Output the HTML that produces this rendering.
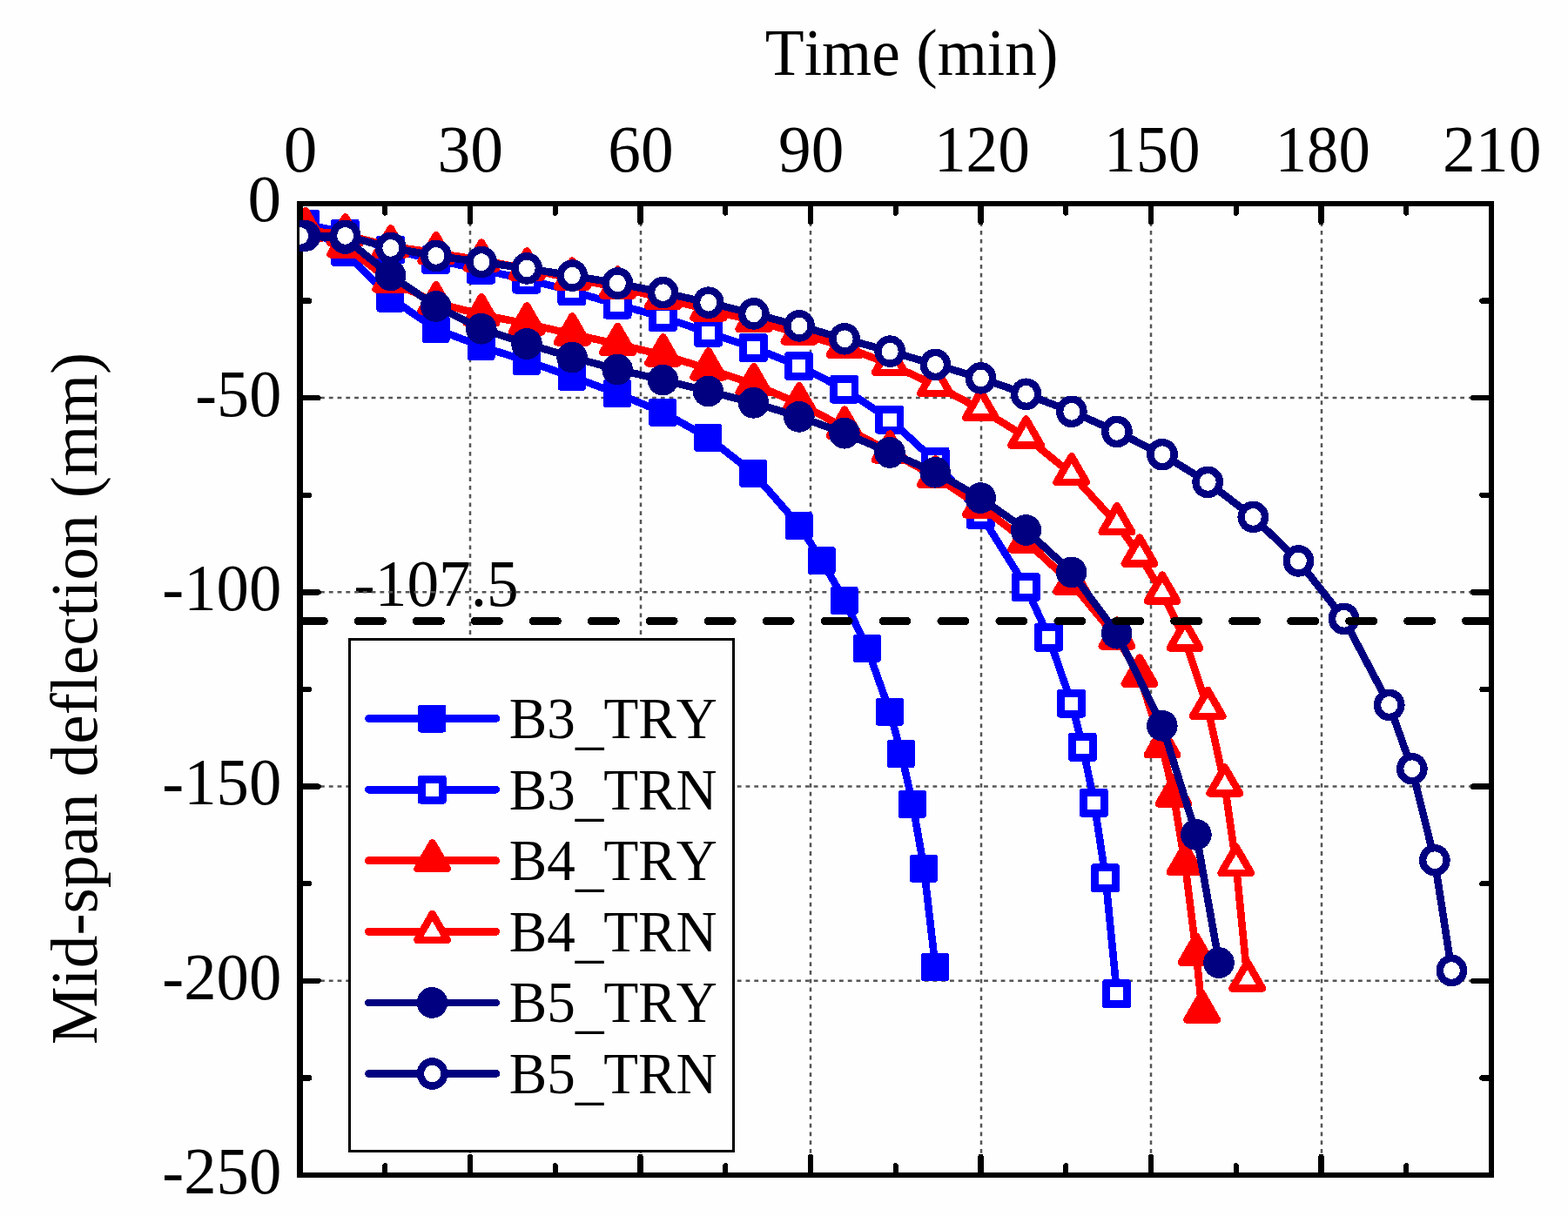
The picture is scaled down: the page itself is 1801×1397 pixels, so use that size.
<!DOCTYPE html>
<html lang="en">
<head>
<meta charset="utf-8">
<title>Mid-span deflection vs Time</title>
<style>
html,body{margin:0;padding:0;background:#fefefe;}
body{width:1801px;height:1397px;overflow:hidden;}
svg{display:block;}
text{font-family:"Liberation Serif","DejaVu Serif",serif;fill:#000;font-variant-ligatures:none;font-kerning:none;}
.ax{font-size:75px;}
.lg{font-size:66px;}
</style>
</head>
<body>
<svg width="1801" height="1397" viewBox="0 0 1801 1397">
<rect x="0" y="0" width="1801" height="1397" fill="#fefefe"/>
<defs><clipPath id="plot"><rect x="344" y="234" width="1369" height="1116"/></clipPath><clipPath id="frame"><rect x="341" y="231" width="1375" height="1122"/></clipPath></defs>
<text class="ax" transform="translate(406.36 695.88) scale(0.9779 1.0246)">-107.5</text>
<g stroke="#555" fill="none" stroke-width="2.5" stroke-dasharray="4.8 4.97">
<line x1="540" y1="235.6" x2="540" y2="1350"/>
<line x1="736" y1="235.6" x2="736" y2="1350"/>
<line x1="931" y1="235.6" x2="931" y2="1350"/>
<line x1="1127" y1="235.6" x2="1127" y2="1350"/>
<line x1="1322" y1="235.6" x2="1322" y2="1350"/>
<line x1="1518" y1="235.6" x2="1518" y2="1350"/>
<line x1="348.5" y1="457.1" x2="1713" y2="457.1"/>
<line x1="348.5" y1="680.3" x2="1713" y2="680.3"/>
<line x1="348.5" y1="903.5" x2="1713" y2="903.5"/>
<line x1="348.5" y1="1126.7" x2="1713" y2="1126.7"/>
</g>
<g clip-path="url(#plot)" shape-rendering="crispEdges">
<polyline points="351,257 396.6,289.8 448.8,342.6 500.9,378 553,398 605.2,415 657.3,432.8 709.4,452.1 761.6,473.9 813.7,502.8 865.8,544 918,604 944,643.9 970.1,689.9 996.2,744.8 1022.2,817.7 1035.3,866 1048.3,923.9 1061.3,997.7 1074.4,1111" fill="none" stroke="#0000ff" stroke-width="8.6" stroke-linejoin="round" stroke-linecap="round"/>
<rect x="334.6" y="241" width="32" height="32" rx="3.2" fill="#0000ff"/>
<rect x="380.2" y="273.8" width="32" height="32" rx="3.2" fill="#0000ff"/>
<rect x="432.4" y="326.6" width="32" height="32" rx="3.2" fill="#0000ff"/>
<rect x="484.5" y="362" width="32" height="32" rx="3.2" fill="#0000ff"/>
<rect x="536.6" y="382" width="32" height="32" rx="3.2" fill="#0000ff"/>
<rect x="588.8" y="399" width="32" height="32" rx="3.2" fill="#0000ff"/>
<rect x="640.9" y="416.8" width="32" height="32" rx="3.2" fill="#0000ff"/>
<rect x="693" y="436.1" width="32" height="32" rx="3.2" fill="#0000ff"/>
<rect x="745.2" y="457.9" width="32" height="32" rx="3.2" fill="#0000ff"/>
<rect x="797.3" y="486.8" width="32" height="32" rx="3.2" fill="#0000ff"/>
<rect x="849.4" y="528" width="32" height="32" rx="3.2" fill="#0000ff"/>
<rect x="901.6" y="588" width="32" height="32" rx="3.2" fill="#0000ff"/>
<rect x="927.6" y="627.9" width="32" height="32" rx="3.2" fill="#0000ff"/>
<rect x="953.7" y="673.9" width="32" height="32" rx="3.2" fill="#0000ff"/>
<rect x="979.8" y="728.8" width="32" height="32" rx="3.2" fill="#0000ff"/>
<rect x="1005.8" y="801.7" width="32" height="32" rx="3.2" fill="#0000ff"/>
<rect x="1018.9" y="850" width="32" height="32" rx="3.2" fill="#0000ff"/>
<rect x="1031.9" y="907.9" width="32" height="32" rx="3.2" fill="#0000ff"/>
<rect x="1044.9" y="981.7" width="32" height="32" rx="3.2" fill="#0000ff"/>
<rect x="1058" y="1095" width="32" height="32" rx="3.2" fill="#0000ff"/>
<polyline points="351,257 396.6,268 448.8,287 500.9,298.5 553,310 605.2,321 657.3,334.4 709.4,350 761.6,364.4 813.7,382.2 865.8,399.5 918,420.6 970.1,447.2 1022.2,482.1 1074.4,530 1126.5,591.2 1178.6,674.4 1204.7,732.2 1230.8,808.1 1243.8,858.3 1256.8,922.4 1269.9,1008.8 1282.9,1141.6" fill="none" stroke="#0000ff" stroke-width="8.6" stroke-linejoin="round" stroke-linecap="round"/>
<rect x="334.1" y="240.5" width="33" height="33" rx="3.6" fill="#0000ff"/><rect x="343" y="249.5" width="15.4" height="15" fill="#fff"/>
<rect x="379.7" y="251.5" width="33" height="33" rx="3.6" fill="#0000ff"/><rect x="388.6" y="260.5" width="15.4" height="15" fill="#fff"/>
<rect x="431.9" y="270.5" width="33" height="33" rx="3.6" fill="#0000ff"/><rect x="440.8" y="279.5" width="15.4" height="15" fill="#fff"/>
<rect x="484" y="282" width="33" height="33" rx="3.6" fill="#0000ff"/><rect x="492.9" y="291" width="15.4" height="15" fill="#fff"/>
<rect x="536.1" y="293.5" width="33" height="33" rx="3.6" fill="#0000ff"/><rect x="545" y="302.5" width="15.4" height="15" fill="#fff"/>
<rect x="588.3" y="304.5" width="33" height="33" rx="3.6" fill="#0000ff"/><rect x="597.2" y="313.5" width="15.4" height="15" fill="#fff"/>
<rect x="640.4" y="317.9" width="33" height="33" rx="3.6" fill="#0000ff"/><rect x="649.3" y="326.9" width="15.4" height="15" fill="#fff"/>
<rect x="692.5" y="333.5" width="33" height="33" rx="3.6" fill="#0000ff"/><rect x="701.4" y="342.5" width="15.4" height="15" fill="#fff"/>
<rect x="744.7" y="347.9" width="33" height="33" rx="3.6" fill="#0000ff"/><rect x="753.6" y="356.9" width="15.4" height="15" fill="#fff"/>
<rect x="796.8" y="365.7" width="33" height="33" rx="3.6" fill="#0000ff"/><rect x="805.7" y="374.7" width="15.4" height="15" fill="#fff"/>
<rect x="848.9" y="383" width="33" height="33" rx="3.6" fill="#0000ff"/><rect x="857.8" y="392" width="15.4" height="15" fill="#fff"/>
<rect x="901.1" y="404.1" width="33" height="33" rx="3.6" fill="#0000ff"/><rect x="910" y="413.1" width="15.4" height="15" fill="#fff"/>
<rect x="953.2" y="430.7" width="33" height="33" rx="3.6" fill="#0000ff"/><rect x="962.1" y="439.7" width="15.4" height="15" fill="#fff"/>
<rect x="1005.3" y="465.6" width="33" height="33" rx="3.6" fill="#0000ff"/><rect x="1014.2" y="474.6" width="15.4" height="15" fill="#fff"/>
<rect x="1057.5" y="513.5" width="33" height="33" rx="3.6" fill="#0000ff"/><rect x="1066.4" y="522.5" width="15.4" height="15" fill="#fff"/>
<rect x="1109.6" y="574.7" width="33" height="33" rx="3.6" fill="#0000ff"/><rect x="1118.5" y="583.7" width="15.4" height="15" fill="#fff"/>
<rect x="1161.7" y="657.9" width="33" height="33" rx="3.6" fill="#0000ff"/><rect x="1170.6" y="666.9" width="15.4" height="15" fill="#fff"/>
<rect x="1187.8" y="715.7" width="33" height="33" rx="3.6" fill="#0000ff"/><rect x="1196.7" y="724.7" width="15.4" height="15" fill="#fff"/>
<rect x="1213.9" y="791.6" width="33" height="33" rx="3.6" fill="#0000ff"/><rect x="1222.8" y="800.6" width="15.4" height="15" fill="#fff"/>
<rect x="1226.9" y="841.8" width="33" height="33" rx="3.6" fill="#0000ff"/><rect x="1235.8" y="850.8" width="15.4" height="15" fill="#fff"/>
<rect x="1239.9" y="905.9" width="33" height="33" rx="3.6" fill="#0000ff"/><rect x="1248.8" y="914.9" width="15.4" height="15" fill="#fff"/>
<rect x="1253" y="992.3" width="33" height="33" rx="3.6" fill="#0000ff"/><rect x="1261.9" y="1001.3" width="15.4" height="15" fill="#fff"/>
<rect x="1266" y="1125.1" width="33" height="33" rx="3.6" fill="#0000ff"/><rect x="1274.9" y="1134.1" width="15.4" height="15" fill="#fff"/>
<polyline points="351,262.5 396.6,282.9 448.8,322.9 500.9,347.8 553,361.5 605.2,371.8 657.3,383.8 709.4,395.4 761.6,407.8 813.7,423.8 865.8,441.5 918,463.7 970.1,491.1 1022.2,518.8 1074.4,547.7 1126.5,581.8 1178.6,621.8 1230.8,670 1282.9,732.9 1309,776 1335,857.7 1348.1,914 1361.1,992.5 1374.1,1096.3 1380.7,1162" fill="none" stroke="#ff0000" stroke-width="8.6" stroke-linejoin="round" stroke-linecap="round"/>
<path d="M351 242.1L368.3 272L333.8 272Z" fill="#ff0000" stroke="#ff0000" stroke-width="8.5" stroke-linejoin="round"/>
<path d="M396.6 262.5L413.9 292.4L379.4 292.4Z" fill="#ff0000" stroke="#ff0000" stroke-width="8.5" stroke-linejoin="round"/>
<path d="M448.8 302.5L466 332.4L431.5 332.4Z" fill="#ff0000" stroke="#ff0000" stroke-width="8.5" stroke-linejoin="round"/>
<path d="M500.9 327.4L518.1 357.3L483.6 357.3Z" fill="#ff0000" stroke="#ff0000" stroke-width="8.5" stroke-linejoin="round"/>
<path d="M553 341.1L570.3 371L535.8 371Z" fill="#ff0000" stroke="#ff0000" stroke-width="8.5" stroke-linejoin="round"/>
<path d="M605.2 351.4L622.4 381.3L587.9 381.3Z" fill="#ff0000" stroke="#ff0000" stroke-width="8.5" stroke-linejoin="round"/>
<path d="M657.3 363.4L674.5 393.3L640 393.3Z" fill="#ff0000" stroke="#ff0000" stroke-width="8.5" stroke-linejoin="round"/>
<path d="M709.4 375L726.7 404.9L692.2 404.9Z" fill="#ff0000" stroke="#ff0000" stroke-width="8.5" stroke-linejoin="round"/>
<path d="M761.6 387.4L778.8 417.3L744.3 417.3Z" fill="#ff0000" stroke="#ff0000" stroke-width="8.5" stroke-linejoin="round"/>
<path d="M813.7 403.4L831 433.3L796.5 433.3Z" fill="#ff0000" stroke="#ff0000" stroke-width="8.5" stroke-linejoin="round"/>
<path d="M865.8 421.1L883.1 451L848.6 451Z" fill="#ff0000" stroke="#ff0000" stroke-width="8.5" stroke-linejoin="round"/>
<path d="M918 443.3L935.2 473.2L900.7 473.2Z" fill="#ff0000" stroke="#ff0000" stroke-width="8.5" stroke-linejoin="round"/>
<path d="M970.1 470.7L987.4 500.6L952.9 500.6Z" fill="#ff0000" stroke="#ff0000" stroke-width="8.5" stroke-linejoin="round"/>
<path d="M1022.2 498.4L1039.5 528.3L1005 528.3Z" fill="#ff0000" stroke="#ff0000" stroke-width="8.5" stroke-linejoin="round"/>
<path d="M1074.4 527.3L1091.6 557.2L1057.1 557.2Z" fill="#ff0000" stroke="#ff0000" stroke-width="8.5" stroke-linejoin="round"/>
<path d="M1126.5 561.4L1143.8 591.3L1109.2 591.3Z" fill="#ff0000" stroke="#ff0000" stroke-width="8.5" stroke-linejoin="round"/>
<path d="M1178.6 601.4L1195.9 631.3L1161.4 631.3Z" fill="#ff0000" stroke="#ff0000" stroke-width="8.5" stroke-linejoin="round"/>
<path d="M1230.8 649.6L1248 679.5L1213.5 679.5Z" fill="#ff0000" stroke="#ff0000" stroke-width="8.5" stroke-linejoin="round"/>
<path d="M1282.9 712.5L1300.2 742.4L1265.7 742.4Z" fill="#ff0000" stroke="#ff0000" stroke-width="8.5" stroke-linejoin="round"/>
<path d="M1309 755.6L1326.2 785.5L1291.7 785.5Z" fill="#ff0000" stroke="#ff0000" stroke-width="8.5" stroke-linejoin="round"/>
<path d="M1335 837.3L1352.3 867.2L1317.8 867.2Z" fill="#ff0000" stroke="#ff0000" stroke-width="8.5" stroke-linejoin="round"/>
<path d="M1348.1 893.6L1365.3 923.5L1330.8 923.5Z" fill="#ff0000" stroke="#ff0000" stroke-width="8.5" stroke-linejoin="round"/>
<path d="M1361.1 972.1L1378.3 1002L1343.8 1002Z" fill="#ff0000" stroke="#ff0000" stroke-width="8.5" stroke-linejoin="round"/>
<path d="M1374.1 1075.9L1391.4 1105.8L1356.9 1105.8Z" fill="#ff0000" stroke="#ff0000" stroke-width="8.5" stroke-linejoin="round"/>
<path d="M1380.7 1141.6L1397.9 1171.5L1363.4 1171.5Z" fill="#ff0000" stroke="#ff0000" stroke-width="8.5" stroke-linejoin="round"/>
<polyline points="351,264.5 396.6,269.8 448.8,282.8 500.9,290.6 553,298.9 605.2,308.9 657.3,320 709.4,330 761.6,342.5 813.7,355.8 865.8,368.5 918,382.9 970.1,398.4 1022.2,418.4 1074.4,442.6 1126.5,470.2 1178.6,502 1230.8,544.6 1282.9,601.7 1309,638 1335,681 1361.1,735 1387.2,813.3 1406.7,901.9 1419.8,993.5 1432.8,1126" fill="none" stroke="#ff0000" stroke-width="8.6" stroke-linejoin="round" stroke-linecap="round"/>
<path d="M351 244.1L368.3 274L333.8 274Z" fill="#fff" stroke="#ff0000" stroke-width="8.5" stroke-linejoin="round"/>
<path d="M396.6 249.4L413.9 279.3L379.4 279.3Z" fill="#fff" stroke="#ff0000" stroke-width="8.5" stroke-linejoin="round"/>
<path d="M448.8 262.4L466 292.3L431.5 292.3Z" fill="#fff" stroke="#ff0000" stroke-width="8.5" stroke-linejoin="round"/>
<path d="M500.9 270.2L518.1 300.1L483.6 300.1Z" fill="#fff" stroke="#ff0000" stroke-width="8.5" stroke-linejoin="round"/>
<path d="M553 278.5L570.3 308.4L535.8 308.4Z" fill="#fff" stroke="#ff0000" stroke-width="8.5" stroke-linejoin="round"/>
<path d="M605.2 288.5L622.4 318.4L587.9 318.4Z" fill="#fff" stroke="#ff0000" stroke-width="8.5" stroke-linejoin="round"/>
<path d="M657.3 299.6L674.5 329.5L640 329.5Z" fill="#fff" stroke="#ff0000" stroke-width="8.5" stroke-linejoin="round"/>
<path d="M709.4 309.6L726.7 339.5L692.2 339.5Z" fill="#fff" stroke="#ff0000" stroke-width="8.5" stroke-linejoin="round"/>
<path d="M761.6 322.1L778.8 352L744.3 352Z" fill="#fff" stroke="#ff0000" stroke-width="8.5" stroke-linejoin="round"/>
<path d="M813.7 335.4L831 365.3L796.5 365.3Z" fill="#fff" stroke="#ff0000" stroke-width="8.5" stroke-linejoin="round"/>
<path d="M865.8 348.1L883.1 378L848.6 378Z" fill="#fff" stroke="#ff0000" stroke-width="8.5" stroke-linejoin="round"/>
<path d="M918 362.5L935.2 392.4L900.7 392.4Z" fill="#fff" stroke="#ff0000" stroke-width="8.5" stroke-linejoin="round"/>
<path d="M970.1 378L987.4 407.9L952.9 407.9Z" fill="#fff" stroke="#ff0000" stroke-width="8.5" stroke-linejoin="round"/>
<path d="M1022.2 398L1039.5 427.9L1005 427.9Z" fill="#fff" stroke="#ff0000" stroke-width="8.5" stroke-linejoin="round"/>
<path d="M1074.4 422.2L1091.6 452.1L1057.1 452.1Z" fill="#fff" stroke="#ff0000" stroke-width="8.5" stroke-linejoin="round"/>
<path d="M1126.5 449.8L1143.8 479.7L1109.2 479.7Z" fill="#fff" stroke="#ff0000" stroke-width="8.5" stroke-linejoin="round"/>
<path d="M1178.6 481.6L1195.9 511.5L1161.4 511.5Z" fill="#fff" stroke="#ff0000" stroke-width="8.5" stroke-linejoin="round"/>
<path d="M1230.8 524.2L1248 554.1L1213.5 554.1Z" fill="#fff" stroke="#ff0000" stroke-width="8.5" stroke-linejoin="round"/>
<path d="M1282.9 581.3L1300.2 611.2L1265.7 611.2Z" fill="#fff" stroke="#ff0000" stroke-width="8.5" stroke-linejoin="round"/>
<path d="M1309 617.6L1326.2 647.5L1291.7 647.5Z" fill="#fff" stroke="#ff0000" stroke-width="8.5" stroke-linejoin="round"/>
<path d="M1335 660.6L1352.3 690.5L1317.8 690.5Z" fill="#fff" stroke="#ff0000" stroke-width="8.5" stroke-linejoin="round"/>
<path d="M1361.1 714.6L1378.3 744.5L1343.8 744.5Z" fill="#fff" stroke="#ff0000" stroke-width="8.5" stroke-linejoin="round"/>
<path d="M1387.2 792.9L1404.4 822.8L1369.9 822.8Z" fill="#fff" stroke="#ff0000" stroke-width="8.5" stroke-linejoin="round"/>
<path d="M1406.7 881.5L1424 911.4L1389.5 911.4Z" fill="#fff" stroke="#ff0000" stroke-width="8.5" stroke-linejoin="round"/>
<path d="M1419.8 973.1L1437 1003L1402.5 1003Z" fill="#fff" stroke="#ff0000" stroke-width="8.5" stroke-linejoin="round"/>
<path d="M1432.8 1105.6L1450 1135.5L1415.5 1135.5Z" fill="#fff" stroke="#ff0000" stroke-width="8.5" stroke-linejoin="round"/>
</g>
<g fill="none" shape-rendering="crispEdges">
<path d="M341 231H1716V1353H341ZM348 237V1347H1710V237Z" fill="#000" fill-rule="evenodd"/>
<g stroke="#000" stroke-width="6.4" stroke-linecap="round">
<line x1="442.2" y1="234" x2="442.2" y2="244.5"/>
<line x1="442.2" y1="1350" x2="442.2" y2="1339.5"/>
<line x1="540" y1="234" x2="540" y2="255"/>
<line x1="540" y1="1350" x2="540" y2="1329"/>
<line x1="637.8" y1="234" x2="637.8" y2="244.5"/>
<line x1="637.8" y1="1350" x2="637.8" y2="1339.5"/>
<line x1="735.5" y1="234" x2="735.5" y2="255"/>
<line x1="735.5" y1="1350" x2="735.5" y2="1329"/>
<line x1="833.2" y1="234" x2="833.2" y2="244.5"/>
<line x1="833.2" y1="1350" x2="833.2" y2="1339.5"/>
<line x1="931" y1="234" x2="931" y2="255"/>
<line x1="931" y1="1350" x2="931" y2="1329"/>
<line x1="1028.8" y1="234" x2="1028.8" y2="244.5"/>
<line x1="1028.8" y1="1350" x2="1028.8" y2="1339.5"/>
<line x1="1126.5" y1="234" x2="1126.5" y2="255"/>
<line x1="1126.5" y1="1350" x2="1126.5" y2="1329"/>
<line x1="1224.2" y1="234" x2="1224.2" y2="244.5"/>
<line x1="1224.2" y1="1350" x2="1224.2" y2="1339.5"/>
<line x1="1322" y1="234" x2="1322" y2="255"/>
<line x1="1322" y1="1350" x2="1322" y2="1329"/>
<line x1="1419.8" y1="234" x2="1419.8" y2="244.5"/>
<line x1="1419.8" y1="1350" x2="1419.8" y2="1339.5"/>
<line x1="1517.5" y1="234" x2="1517.5" y2="255"/>
<line x1="1517.5" y1="1350" x2="1517.5" y2="1329"/>
<line x1="1615.2" y1="234" x2="1615.2" y2="244.5"/>
<line x1="1615.2" y1="1350" x2="1615.2" y2="1339.5"/>
<line x1="344.5" y1="345.6" x2="355" y2="345.6"/>
<line x1="1713" y1="345.6" x2="1702.5" y2="345.6"/>
<line x1="344.5" y1="457.2" x2="365.5" y2="457.2"/>
<line x1="1713" y1="457.2" x2="1692" y2="457.2"/>
<line x1="344.5" y1="568.8" x2="355" y2="568.8"/>
<line x1="1713" y1="568.8" x2="1702.5" y2="568.8"/>
<line x1="344.5" y1="680.4" x2="365.5" y2="680.4"/>
<line x1="1713" y1="680.4" x2="1692" y2="680.4"/>
<line x1="344.5" y1="792" x2="355" y2="792"/>
<line x1="1713" y1="792" x2="1702.5" y2="792"/>
<line x1="344.5" y1="903.6" x2="365.5" y2="903.6"/>
<line x1="1713" y1="903.6" x2="1692" y2="903.6"/>
<line x1="344.5" y1="1015.2" x2="355" y2="1015.2"/>
<line x1="1713" y1="1015.2" x2="1702.5" y2="1015.2"/>
<line x1="344.5" y1="1126.8" x2="365.5" y2="1126.8"/>
<line x1="1713" y1="1126.8" x2="1692" y2="1126.8"/>
<line x1="344.5" y1="1238.4" x2="355" y2="1238.4"/>
<line x1="1713" y1="1238.4" x2="1702.5" y2="1238.4"/>
</g></g>
<g clip-path="url(#plot)" shape-rendering="crispEdges">
<polyline points="351,271 396.6,274 448.8,316.4 500.9,351.9 553,377.7 605.2,395 657.3,410.6 709.4,424.5 761.6,436.6 813.7,449.5 865.8,462.8 918,478.8 970.1,497.7 1022.2,519.9 1074.4,542.7 1126.5,572.1 1178.6,609 1230.8,657.4 1282.9,727.7 1335,833.7 1374.1,958.9 1400.2,1106.1" fill="none" stroke="#000080" stroke-width="8.6" stroke-linejoin="round" stroke-linecap="round"/>
<ellipse cx="350.8" cy="271" rx="17.8" ry="17.9" fill="#000080"/>
<ellipse cx="396.4" cy="274" rx="17.8" ry="17.9" fill="#000080"/>
<ellipse cx="448.6" cy="316.4" rx="17.8" ry="17.9" fill="#000080"/>
<ellipse cx="500.7" cy="351.9" rx="17.8" ry="17.9" fill="#000080"/>
<ellipse cx="552.8" cy="377.7" rx="17.8" ry="17.9" fill="#000080"/>
<ellipse cx="605" cy="395" rx="17.8" ry="17.9" fill="#000080"/>
<ellipse cx="657.1" cy="410.6" rx="17.8" ry="17.9" fill="#000080"/>
<ellipse cx="709.2" cy="424.5" rx="17.8" ry="17.9" fill="#000080"/>
<ellipse cx="761.4" cy="436.6" rx="17.8" ry="17.9" fill="#000080"/>
<ellipse cx="813.5" cy="449.5" rx="17.8" ry="17.9" fill="#000080"/>
<ellipse cx="865.6" cy="462.8" rx="17.8" ry="17.9" fill="#000080"/>
<ellipse cx="917.8" cy="478.8" rx="17.8" ry="17.9" fill="#000080"/>
<ellipse cx="969.9" cy="497.7" rx="17.8" ry="17.9" fill="#000080"/>
<ellipse cx="1022" cy="519.9" rx="17.8" ry="17.9" fill="#000080"/>
<ellipse cx="1074.2" cy="542.7" rx="17.8" ry="17.9" fill="#000080"/>
<ellipse cx="1126.3" cy="572.1" rx="17.8" ry="17.9" fill="#000080"/>
<ellipse cx="1178.4" cy="609" rx="17.8" ry="17.9" fill="#000080"/>
<ellipse cx="1230.6" cy="657.4" rx="17.8" ry="17.9" fill="#000080"/>
<ellipse cx="1282.7" cy="727.7" rx="17.8" ry="17.9" fill="#000080"/>
<ellipse cx="1334.8" cy="833.7" rx="17.8" ry="17.9" fill="#000080"/>
<ellipse cx="1373.9" cy="958.9" rx="17.8" ry="17.9" fill="#000080"/>
<ellipse cx="1400" cy="1106.1" rx="17.8" ry="17.9" fill="#000080"/>
<polyline points="344.5,271 396.6,270.9 448.8,284.9 500.9,293.9 553,301.1 605.2,308.4 657.3,316.6 709.4,325.5 761.6,336.2 813.7,347.7 865.8,360.4 918,374.4 970.1,389.3 1022.2,403.6 1074.4,418.9 1126.5,434.4 1178.6,452.8 1230.8,472.8 1282.9,495.9 1335,522.2 1387.2,553.9 1439.3,593.9 1491.4,644.4 1543.6,710.8 1595.7,809.9 1621.8,883.2 1647.8,988.2 1667.4,1115" fill="none" stroke="#000080" stroke-width="8.6" stroke-linejoin="round" stroke-linecap="round"/>
<ellipse cx="344.5" cy="271" rx="13.7" ry="14.1" fill="#fff" stroke="#000080" stroke-width="8.4"/>
<ellipse cx="396.6" cy="270.9" rx="13.7" ry="14.1" fill="#fff" stroke="#000080" stroke-width="8.4"/>
<ellipse cx="448.8" cy="284.9" rx="13.7" ry="14.1" fill="#fff" stroke="#000080" stroke-width="8.4"/>
<ellipse cx="500.9" cy="293.9" rx="13.7" ry="14.1" fill="#fff" stroke="#000080" stroke-width="8.4"/>
<ellipse cx="553" cy="301.1" rx="13.7" ry="14.1" fill="#fff" stroke="#000080" stroke-width="8.4"/>
<ellipse cx="605.2" cy="308.4" rx="13.7" ry="14.1" fill="#fff" stroke="#000080" stroke-width="8.4"/>
<ellipse cx="657.3" cy="316.6" rx="13.7" ry="14.1" fill="#fff" stroke="#000080" stroke-width="8.4"/>
<ellipse cx="709.4" cy="325.5" rx="13.7" ry="14.1" fill="#fff" stroke="#000080" stroke-width="8.4"/>
<ellipse cx="761.6" cy="336.2" rx="13.7" ry="14.1" fill="#fff" stroke="#000080" stroke-width="8.4"/>
<ellipse cx="813.7" cy="347.7" rx="13.7" ry="14.1" fill="#fff" stroke="#000080" stroke-width="8.4"/>
<ellipse cx="865.8" cy="360.4" rx="13.7" ry="14.1" fill="#fff" stroke="#000080" stroke-width="8.4"/>
<ellipse cx="918" cy="374.4" rx="13.7" ry="14.1" fill="#fff" stroke="#000080" stroke-width="8.4"/>
<ellipse cx="970.1" cy="389.3" rx="13.7" ry="14.1" fill="#fff" stroke="#000080" stroke-width="8.4"/>
<ellipse cx="1022.2" cy="403.6" rx="13.7" ry="14.1" fill="#fff" stroke="#000080" stroke-width="8.4"/>
<ellipse cx="1074.4" cy="418.9" rx="13.7" ry="14.1" fill="#fff" stroke="#000080" stroke-width="8.4"/>
<ellipse cx="1126.5" cy="434.4" rx="13.7" ry="14.1" fill="#fff" stroke="#000080" stroke-width="8.4"/>
<ellipse cx="1178.6" cy="452.8" rx="13.7" ry="14.1" fill="#fff" stroke="#000080" stroke-width="8.4"/>
<ellipse cx="1230.8" cy="472.8" rx="13.7" ry="14.1" fill="#fff" stroke="#000080" stroke-width="8.4"/>
<ellipse cx="1282.9" cy="495.9" rx="13.7" ry="14.1" fill="#fff" stroke="#000080" stroke-width="8.4"/>
<ellipse cx="1335" cy="522.2" rx="13.7" ry="14.1" fill="#fff" stroke="#000080" stroke-width="8.4"/>
<ellipse cx="1387.2" cy="553.9" rx="13.7" ry="14.1" fill="#fff" stroke="#000080" stroke-width="8.4"/>
<ellipse cx="1439.3" cy="593.9" rx="13.7" ry="14.1" fill="#fff" stroke="#000080" stroke-width="8.4"/>
<ellipse cx="1491.4" cy="644.4" rx="13.7" ry="14.1" fill="#fff" stroke="#000080" stroke-width="8.4"/>
<ellipse cx="1543.6" cy="710.8" rx="13.7" ry="14.1" fill="#fff" stroke="#000080" stroke-width="8.4"/>
<ellipse cx="1595.7" cy="809.9" rx="13.7" ry="14.1" fill="#fff" stroke="#000080" stroke-width="8.4"/>
<ellipse cx="1621.8" cy="883.2" rx="13.7" ry="14.1" fill="#fff" stroke="#000080" stroke-width="8.4"/>
<ellipse cx="1647.8" cy="988.2" rx="13.7" ry="14.1" fill="#fff" stroke="#000080" stroke-width="8.4"/>
<ellipse cx="1667.4" cy="1115" rx="13.7" ry="14.1" fill="#fff" stroke="#000080" stroke-width="8.4"/>
</g>
<line clip-path="url(#frame)" x1="344.5" y1="713.5" x2="1713" y2="713.5" stroke="#000" stroke-width="9" stroke-dasharray="28 38.95" stroke-linecap="round" shape-rendering="crispEdges"/>
<rect x="401.5" y="734.5" width="441" height="588" fill="#fefefe" stroke="#000" stroke-width="3" shape-rendering="crispEdges"/>
<g shape-rendering="crispEdges">
<line x1="423.4" y1="825.5" x2="569.7" y2="825.5" stroke="#0000ff" stroke-width="8.8" stroke-linecap="round"/>
<rect x="480.2" y="809.5" width="32" height="32" rx="3.2" fill="#0000ff"/>
<line x1="423.4" y1="907.1" x2="569.7" y2="907.1" stroke="#0000ff" stroke-width="8.8" stroke-linecap="round"/>
<rect x="479.7" y="890.6" width="33" height="33" rx="3.6" fill="#0000ff"/><rect x="488.6" y="899.6" width="15.4" height="15" fill="#fff"/>
<line x1="423.4" y1="988.7" x2="569.7" y2="988.7" stroke="#ff0000" stroke-width="8.8" stroke-linecap="round"/>
<path d="M496.6 968.3L513.9 998.2L479.4 998.2Z" fill="#ff0000" stroke="#ff0000" stroke-width="8.5" stroke-linejoin="round"/>
<line x1="423.4" y1="1070.3" x2="569.7" y2="1070.3" stroke="#ff0000" stroke-width="8.8" stroke-linecap="round"/>
<path d="M496.6 1049.9L513.9 1079.8L479.4 1079.8Z" fill="#fff" stroke="#ff0000" stroke-width="8.5" stroke-linejoin="round"/>
<line x1="423.4" y1="1151.9" x2="569.7" y2="1151.9" stroke="#000080" stroke-width="8.8" stroke-linecap="round"/>
<ellipse cx="496.4" cy="1151.9" rx="17.8" ry="17.9" fill="#000080"/>
<line x1="423.4" y1="1233.5" x2="569.7" y2="1233.5" stroke="#000080" stroke-width="8.8" stroke-linecap="round"/>
<ellipse cx="496.6" cy="1233.5" rx="13.7" ry="14.1" fill="#fff" stroke="#000080" stroke-width="8.4"/>
</g>
<text class="lg" transform="translate(584.82 847.90) scale(0.9876 1.0120)">B3<tspan dy="5">_</tspan><tspan dy="-5">TRY</tspan></text>
<text class="lg" transform="translate(584.83 929.50) scale(0.9866 1.0120)">B3<tspan dy="5">_</tspan><tspan dy="-5">TRN</tspan></text>
<text class="lg" transform="translate(584.82 1011.10) scale(0.9876 1.0120)">B4<tspan dy="5">_</tspan><tspan dy="-5">TRY</tspan></text>
<text class="lg" transform="translate(584.83 1092.70) scale(0.9866 1.0120)">B4<tspan dy="5">_</tspan><tspan dy="-5">TRN</tspan></text>
<text class="lg" transform="translate(584.82 1174.30) scale(0.9876 1.0120)">B5<tspan dy="5">_</tspan><tspan dy="-5">TRY</tspan></text>
<text class="lg" transform="translate(584.83 1255.90) scale(0.9866 1.0120)">B5<tspan dy="5">_</tspan><tspan dy="-5">TRN</tspan></text>
<text class="ax" transform="translate(325.79 197.03) scale(1.0300 1.0277)">0</text>
<text class="ax" transform="translate(502.42 197.03) scale(1.0080 1.0277)">30</text>
<text class="ax" transform="translate(698.29 197.03) scale(1.0043 1.0277)">60</text>
<text class="ax" transform="translate(894.09 197.03) scale(1.0036 1.0277)">90</text>
<text class="ax" transform="translate(1072.94 197.03) scale(0.9782 1.0277)">120</text>
<text class="ax" transform="translate(1268.12 197.03) scale(0.9821 1.0277)">150</text>
<text class="ax" transform="translate(1464.72 197.03) scale(0.9700 1.0277)">180</text>
<text class="ax" transform="translate(1657.08 197.03) scale(1.0075 1.0277)">210</text>
<text class="ax" transform="translate(284.56 254.13) scale(1.0300 1.0277)">0</text>
<text class="ax" transform="translate(224.33 477.51) scale(0.9899 1.0277)">-50</text>
<text class="ax" transform="translate(186.31 700.89) scale(0.9966 1.0277)">-100</text>
<text class="ax" transform="translate(186.31 924.27) scale(0.9966 1.0277)">-150</text>
<text class="ax" transform="translate(186.31 1147.65) scale(0.9966 1.0277)">-200</text>
<text class="ax" transform="translate(186.31 1371.03) scale(0.9966 1.0277)">-250</text>
<text class="ax" transform="translate(878.78 85.70) scale(0.9796 1.0120)">Time (min)</text>
<text class="ax" transform="translate(110.95 1200.26) rotate(-90) scale(1.0053 1.0120)">Mid-span deflection (mm)</text>
</svg>
</body>
</html>
